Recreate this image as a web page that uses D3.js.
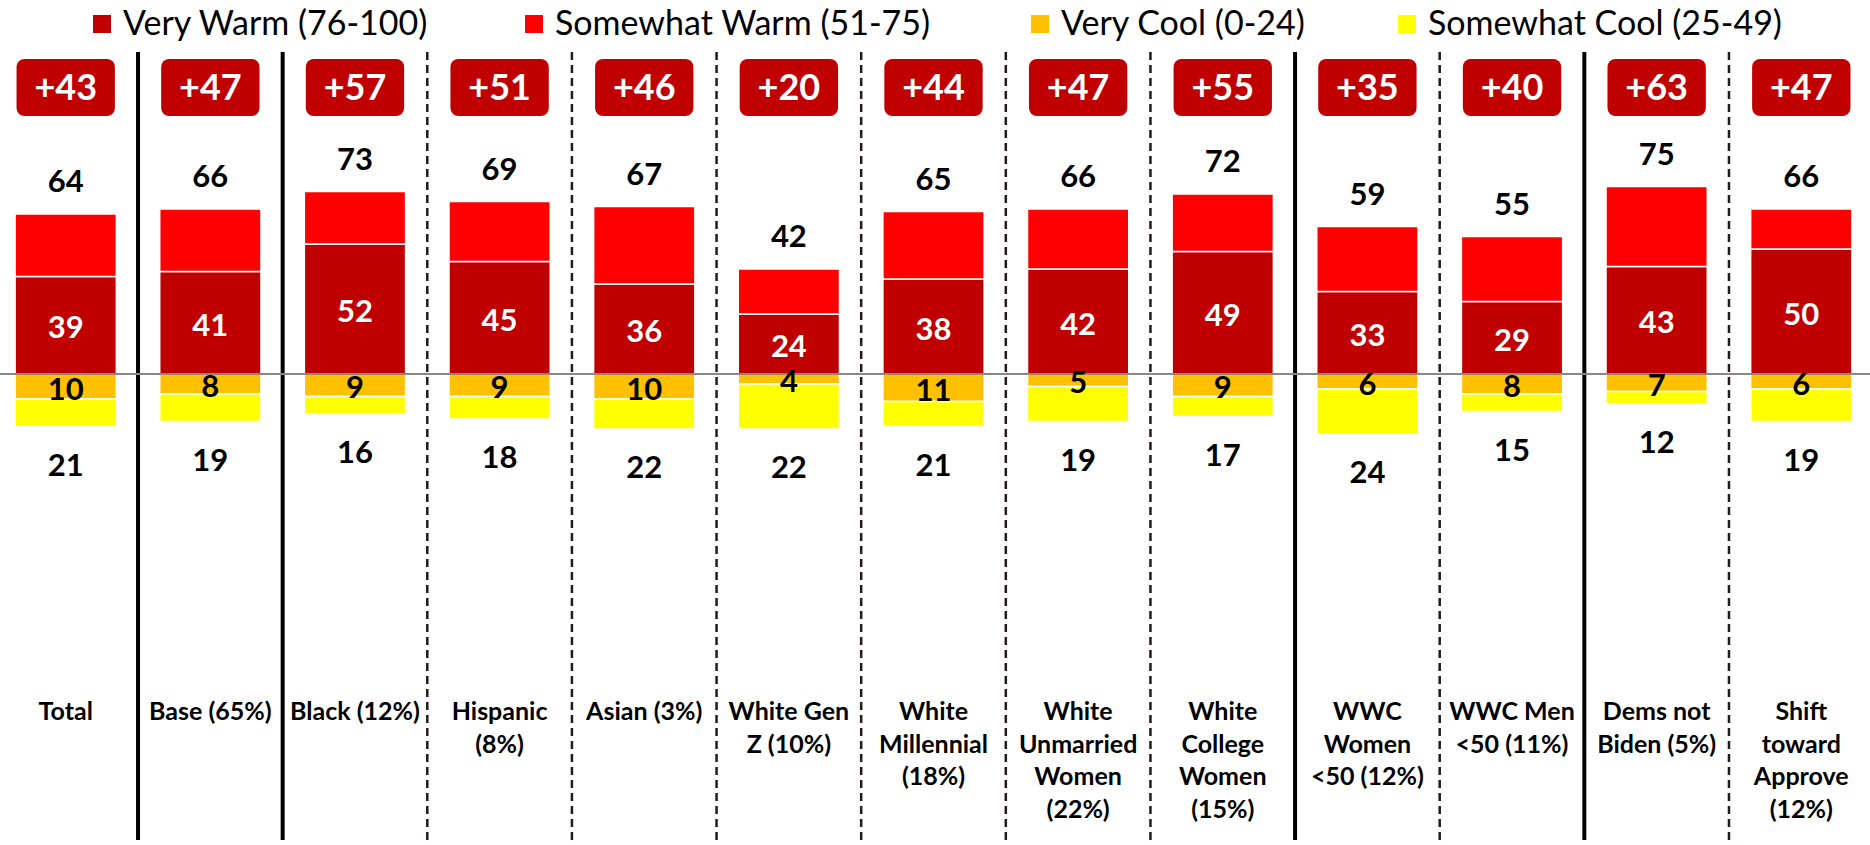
<!DOCTYPE html>
<html>
<head>
<meta charset="utf-8">
<script src="https://cdn.jsdelivr.net/npm/d3@7"></script>
<style>
  html, body { margin: 0; padding: 0; background: #fff; }
  svg text { font-family: Lato, "Open Sans", sans-serif; }
</style>
</head>
<body>
<div id="chart"></div>
<script>
// Categorías (cada elemento = líneas de la etiqueta)
const categories = [
  ["Total"],
  ["Base (65%)"],
  ["Black (12%)"],
  ["Hispanic", "(8%)"],
  ["Asian (3%)"],
  ["White Gen", "Z (10%)"],
  ["White", "Millennial", "(18%)"],
  ["White", "Unmarried", "Women", "(22%)"],
  ["White", "College", "Women", "(15%)"],
  ["WWC", "Women", "<50 (12%)"],
  ["WWC Men", "<50 (11%)"],
  ["Dems not", "Biden (5%)"],
  ["Shift", "toward", "Approve", "(12%)"]
]

// Valores
const veryWarm  = [39, 41, 52, 45, 36, 24, 38, 42, 49, 33, 29, 43, 50]
const warmTotal = [64, 66, 73, 69, 67, 42, 65, 66, 72, 59, 55, 75, 66]
const veryCool  = [10, 8, 9, 9, 10, 4, 11, 5, 9, 6, 8, 7, 6]
const coolTotal = [21, 19, 16, 18, 22, 22, 21, 19, 17, 24, 15, 12, 19]
const netWarm   = [43, 47, 57, 51, 46, 20, 44, 47, 55, 35, 40, 63, 47]

// Separadores sólidos después de estas columnas
const groupBreaks = [0, 1, 8, 10]

const legendItems = [
  { key: "veryWarm", label: "Very Warm (76-100)" },
  { key: "someWarm", label: "Somewhat Warm (51-75)" },
  { key: "veryCool", label: "Very Cool (0-24)" },
  { key: "someCool", label: "Somewhat Cool (25-49)" }
]

const colors = {
  veryWarm: "#C00000",
  someWarm: "#FF0000",
  veryCool: "#FFC000",
  someCool: "#FFFF00"
}

function drawChart(containerSelector, { width = 1870, height = 845 } = {}) {
  d3.select(containerSelector).selectAll("*").remove()

  const svg = d3.select(containerSelector)
    .append("svg")
    .attr("width", width)
    .attr("height", height)
    .attr("viewBox", [0, 0, width, height])

  const idx = d3.range(categories.length)

  const x = d3.scaleBand()
    .domain(idx)
    .range([-6.6, 1873.6])
    .paddingInner(0.3)
    .paddingOuter(0.15)

  const y = d3.scaleLinear()
    .domain([0, 100])
    .range([374, 124])

  const step = x.step()
  const bw = x.bandwidth()
  const cx = i => x(i) + bw / 2

  // sombra de las líneas punteadas
  const defs = svg.append("defs")
  defs.append("filter").attr("id", "soft")
    .attr("x", "-5").attr("width", "11")
    .append("feGaussianBlur").attr("stdDeviation", 1.6)

  // Separadores verticales
  const seps = idx.slice(0, -1)
  const sepX = i => x(i) + bw + (step - bw) / 2
  seps.forEach(i => {
    const solid = groupBreaks.includes(i)
    if (solid) {
      svg.append("line")
        .attr("x1", sepX(i)).attr("x2", sepX(i))
        .attr("y1", 52).attr("y2", 840)
        .attr("stroke", "#000").attr("stroke-width", 4)
    } else {
      svg.append("line")
        .attr("x1", sepX(i)).attr("x2", sepX(i))
        .attr("y1", 52).attr("y2", height)
        .attr("stroke", "#bbb").attr("stroke-width", 4)
        .attr("filter", "url(#soft)")
      svg.append("line")
        .attr("x1", sepX(i)).attr("x2", sepX(i))
        .attr("y1", 52).attr("y2", height)
        .attr("stroke", "#231a1a").attr("stroke-width", 2.5)
        .attr("stroke-dasharray", "8,5")
    }
  })

  // Barras apiladas
  const segs = []
  idx.forEach(i => {
    segs.push({ i, key: "veryWarm", v0: 0, v1: veryWarm[i] })
    segs.push({ i, key: "someWarm", v0: veryWarm[i], v1: warmTotal[i] })
    segs.push({ i, key: "veryCool", v0: 0, v1: -veryCool[i] })
    segs.push({ i, key: "someCool", v0: -veryCool[i], v1: -coolTotal[i] })
  })

  svg.append("g").selectAll("rect")
    .data(segs)
    .join("rect")
    .attr("x", d => x(d.i))
    .attr("width", bw)
    .attr("y", d => y(Math.max(d.v0, d.v1)))
    .attr("height", d => Math.abs(y(d.v0) - y(d.v1)))
    .attr("fill", d => colors[d.key])
    .attr("stroke", "#fff")
    .attr("stroke-width", 1.5)

  // Línea cero
  svg.append("line")
    .attr("x1", 0).attr("x2", width)
    .attr("y1", y(0)).attr("y2", y(0))
    .attr("stroke", "#888").attr("stroke-width", 2)

  // Etiquetas
  const lbl = svg.append("g").attr("text-anchor", "middle").attr("font-weight", 700)

  lbl.selectAll(".warm-total")
    .data(idx).join("text")
    .attr("x", cx)
    .attr("y", i => y(warmTotal[i]) - 22)
    .attr("font-size", 31)
    .attr("fill", "#000")
    .text(i => warmTotal[i])

  lbl.selectAll(".very-warm")
    .data(idx).join("text")
    .attr("x", cx)
    .attr("y", i => (y(veryWarm[i]) + y(0)) / 2 + 2)
    .attr("dy", "0.36em")
    .attr("font-size", 31)
    .attr("fill", "#fff")
    .text(i => veryWarm[i])

  lbl.selectAll(".very-cool")
    .data(idx).join("text")
    .attr("x", cx)
    .attr("y", i => (y(-veryCool[i]) + y(0)) / 2 + 2)
    .attr("dy", "0.36em")
    .attr("font-size", 31)
    .attr("fill", "#000")
    .text(i => veryCool[i])

  lbl.selectAll(".cool-total")
    .data(idx).join("text")
    .attr("x", cx)
    .attr("y", i => y(-coolTotal[i]) + 49)
    .attr("font-size", 31)
    .attr("fill", "#000")
    .text(i => coolTotal[i])

  // Cajas de diferencia neta
  const boxW = step * 0.68
  const box = svg.append("g").selectAll("g")
    .data(idx).join("g")
    .attr("transform", i => `translate(${cx(i)},87.5)`)
  box.append("rect")
    .attr("x", -boxW / 2).attr("y", -28.5)
    .attr("width", boxW).attr("height", 57)
    .attr("rx", 8)
    .attr("fill", colors.veryWarm)
  box.append("text")
    .attr("text-anchor", "middle")
    .attr("dy", "0.36em")
    .attr("font-size", 36)
    .attr("font-weight", 700)
    .attr("fill", "#fff")
    .text(i => "+" + netWarm[i])

  // Nombres de categoría
  const cat = svg.append("g").attr("text-anchor", "middle")
    .attr("font-weight", 700).attr("font-size", 25)
  idx.forEach(i => {
    const t = cat.append("text")
    categories[i].forEach((line, k) => {
      t.append("tspan").attr("x", cx(i)).attr("y", 711 + k * 32.5).attr("dy", "0.36em").text(line)
    })
  })

  // Leyenda
  const legendX = [93, 525, 1031, 1398]
  const leg = svg.append("g")
  legendItems.forEach((item, k) => {
    leg.append("rect")
      .attr("x", legendX[k]).attr("y", 15)
      .attr("width", 18).attr("height", 18)
      .attr("fill", colors[item.key])
    leg.append("text")
      .attr("x", legendX[k] + 30).attr("y", 35)
      .attr("font-size", 34)
      .attr("fill", "#000")
      .text(item.label)
  })
}

drawChart("#chart")
</script>
</body>
</html>
